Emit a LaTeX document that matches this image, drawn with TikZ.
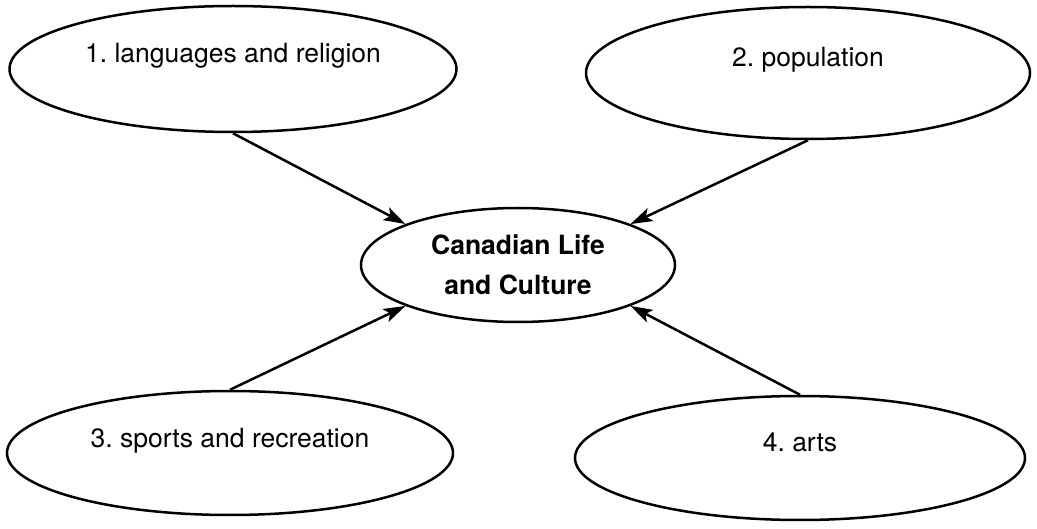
\documentclass[tikz,border=0pt]{standalone}
\usepackage{fontspec}
\setmainfont{TeX Gyre Heros}
\usetikzlibrary{shapes.geometric,arrows.meta}
\frenchspacing

\begin{document}
\begin{tikzpicture}[x=1pt, y=-1pt,
	topic/.style={draw, ellipse, line width=2.5pt, inner sep=0pt, text height=19pt, text depth=31pt, font=\fontsize{26.5}{32}\selectfont},
	link/.style={line width=2.5pt, -{Stealth[length=22pt, width=14pt, inset=5pt]}}]
	\useasboundingbox (0,0) rectangle (1037,529);
	\node[draw, ellipse, line width=2.5pt, inner sep=0pt, minimum width=314pt, minimum height=114pt, align=center, font=\bfseries\fontsize{26.5}{40}\selectfont] (culture) at (518,265) {Canadian Life\\and Culture};
	\node[topic, minimum width=447pt, minimum height=126pt] (lang) at (233,69) {1. languages and religion};
	\node[topic, minimum width=444pt, minimum height=132pt] (pop) at (808,73) {2. population};
	\node[topic, minimum width=446pt, minimum height=124pt] (sport) at (230,453) {3. sports and recreation};
	\node[topic, minimum width=450pt, minimum height=124pt] (arts) at (800,458) {4. arts};
	\draw[link] (lang.south) -- (culture.160);
	\draw[link] (pop.south) -- (culture.20);
	\draw[link] (sport.north) -- (culture.200);
	\draw[link] (arts.north) -- (culture.340);
\end{tikzpicture}
\end{document}
